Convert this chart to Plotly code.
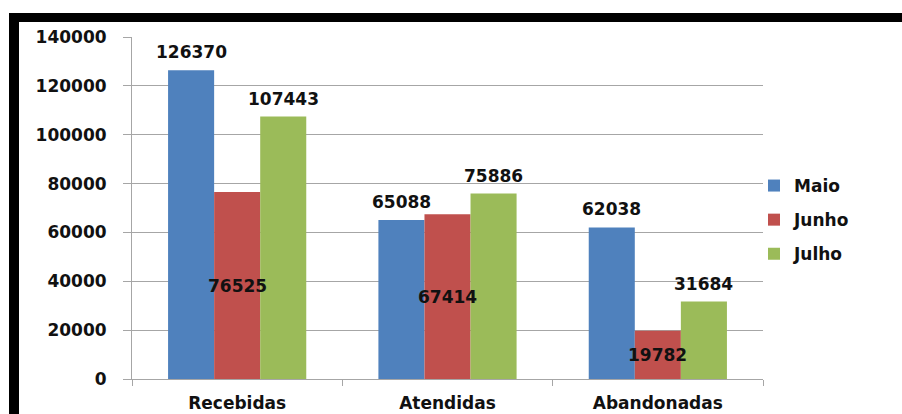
import plotly.graph_objects as go

# Call volumes per category and month
categories = ["Recebidas", "Atendidas", "Abandonadas"]
months = ["Maio", "Junho", "Julho"]
maio = [126370, 65088, 62038]
junho = [76525, 67414, 19782]
julho = [107443, 75886, 31684]
y_ticks = [0, 20000, 40000, 60000, 80000, 100000, 120000, 140000]

series = [maio, junho, julho]
colors = ["#4F81BD", "#C0504D", "#9BBB59"]

W, H = 902, 414
ML, MR, MT, MB = 132, 139, 37, 35
BARGAP = 0.343

FONT = "DejaVu Sans"
FS = 17

fig = go.Figure()
for name, vals, col in zip(months, series, colors):
    fig.add_trace(go.Bar(
        x=categories, y=vals, name=name, marker_color=col,
        marker_line_width=0, legendgroup=name,
    ))

# value labels: first and last month above the bar, middle month centred inside
bar_w = (1 - BARGAP) / len(months)
annotations = []
for k, vals in enumerate(series):
    offset = (k - 1) * bar_w
    for i, v in enumerate(vals):
        if k == 1:
            annotations.append(dict(x=i + offset, y=v / 2, xref="x", yref="y",
                                    text=str(v), showarrow=False, yanchor="middle"))
        else:
            annotations.append(dict(x=i + offset, y=v, xref="x", yref="y",
                                    text=str(v), showarrow=False, yanchor="middle",
                                    yshift=18))
for a in annotations:
    a["font"] = dict(family=FONT, size=FS, color="#111", weight="bold")

pw = W - ML - MR
ph = H - MT - MB


def px_x(p):
    return (p - ML) / pw


def px_y(p):
    return (H - MB - p) / ph


# black frame on the top and left edges
shapes = [
    dict(type="rect", xref="paper", yref="paper", x0=px_x(9), x1=px_x(902),
         y0=px_y(22), y1=px_y(13), fillcolor="black", line_width=0, layer="above"),
    dict(type="rect", xref="paper", yref="paper", x0=px_x(9), x1=px_x(19),
         y0=px_y(414), y1=px_y(13), fillcolor="black", line_width=0, layer="above"),
]

fig.update_layout(
    width=W, height=H,
    margin=dict(l=ML, r=MR, t=MT, b=MB, pad=0, autoexpand=False),
    paper_bgcolor="white", plot_bgcolor="white",
    barmode="group", bargap=BARGAP, bargroupgap=0,
    font=dict(family=FONT, size=FS, color="#111", weight="bold"),
    annotations=annotations,
    shapes=shapes,
    showlegend=True,
    legend=dict(x=px_x(754), y=px_y(220), xanchor="left", yanchor="middle",
                tracegroupgap=9, font=dict(family=FONT, size=FS, weight="bold"),
                bgcolor="rgba(0,0,0,0)"),
)
fig.update_yaxes(
    range=[0, 140000], tickvals=y_ticks, ticktext=[str(t) for t in y_ticks],
    showgrid=True, gridcolor="#A6A6A6", gridwidth=1,
    showline=True, linecolor="#A6A6A6", linewidth=1,
    ticks="outside", ticklen=8, tickcolor="#A6A6A6",
    ticklabelstandoff=13, zeroline=False, automargin=False,
    tickfont=dict(family=FONT, size=FS, weight="bold"),
)
fig.update_xaxes(
    showline=True, linecolor="#A6A6A6", linewidth=1,
    ticks="outside", ticklen=6, tickcolor="#A6A6A6", tickson="boundaries",
    ticklabelstandoff=9, automargin=False,
    tickfont=dict(family=FONT, size=FS, weight="bold"),
)

fig.write_html("out.html")
